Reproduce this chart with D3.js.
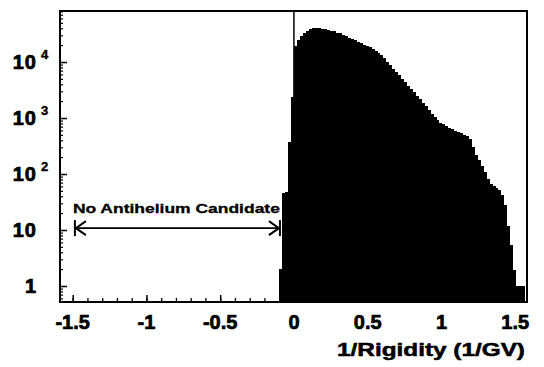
<!DOCTYPE html>
<html>
<head>
<meta charset="utf-8">
<script src="https://cdn.jsdelivr.net/npm/d3@7"></script>
<style>
  body { margin: 0; background: #fff; }
  svg { display: block; }
  text { font-family: "Liberation Sans", Arial, sans-serif; font-weight: bold; fill: #000; }
</style>
</head>
<body>
<div id="chart"></div>
<script>
// histogram of 1/rigidity, bins of 0.02 starting at -0.10
var binStart = -0.10;
var binWidth = 0.02;
var counts = [
  2, 45, 48, 370, 2370,
  19300, 24700, 29100, 33000, 36500, 38800, 40500, 40500, 40500, 39600,
  38800, 38000, 36500, 35100, 33600, 33000, 31000, 29100, 27400, 25700,
  24700, 23200, 21800, 20500, 19300, 18200, 17100, 15700, 14500, 13100,
  11800, 10200, 8840, 7660, 6770, 5860, 4970, 4400, 3800, 3360,
  2910, 2520, 2180, 1890, 1640, 1390, 1200, 1040, 921, 831,
  766, 720, 676, 636, 598, 562, 540, 497, 468, 422,
  303, 218, 178, 139, 109, 81, 66, 61, 56, 52,
  42, 28, 12, 5.4, 1.9, 1, 1, 1
];
var xTicks = [-1.5, -1, -0.5, 0, 0.5, 1, 1.5];
var xTickLabels = ["-1.5", "-1", "-0.5", "0", "0.5", "1", "1.5"];
var yTicks = [1, 10, 100, 1000, 10000];
var yTickBase = ["1", "10", "10", "10", "10"];
var yTickExp = ["", "", "2", "3", "4"];
var xTitle = "1/Rigidity (1/GV)";
var noteText = "No Antihelium Candidate";
var noteRange = [-1.485, -0.095];
var noteLevel = 10.8;

var W = 544, H = 367;
var pLeft = 60, pRight = 527, pTop = 11, pBottom = 302;

var svg = d3.select("#chart").append("svg")
    .attr("width", W)
    .attr("height", H);

var x = d3.scaleLinear().domain([-1.586, 1.58]).range([pLeft, pRight]);
var y = d3.scaleLog().domain([0.518, 81500]).range([pBottom, pTop]);

var bins = counts.map(function (c, i) {
    var lo = binStart + i * binWidth;
    return {lo: lo, hi: lo + binWidth, n: c};
});

// histogram bars
svg.append("g")
    .attr("shape-rendering", "crispEdges")
    .selectAll("rect")
    .data(bins)
    .enter().append("rect")
    .attr("x", function (d) { return Math.round(x(d.lo)); })
    .attr("width", function (d) { return Math.round(x(d.hi)) - Math.round(x(d.lo)) + 1; })
    .attr("y", function (d) { return y(d.n); })
    .attr("height", function (d) { return pBottom - y(d.n); })
    .attr("fill", "#000");

// line at zero
svg.append("line")
    .attr("x1", x(0)).attr("x2", x(0))
    .attr("y1", pTop).attr("y2", pBottom)
    .attr("stroke", "#000").attr("stroke-width", 1.5);

// minor / major ticks on the bottom axis (pointing inward)
var minorX = d3.range(-15, 16).map(function (k) { return k / 10; });
svg.append("g")
    .attr("transform", "translate(0," + pBottom + ")")
    .call(d3.axisBottom(x).tickValues(minorX).tickSizeInner(-4).tickSizeOuter(0).tickFormat(""))
    .call(function (g) { g.select(".domain").remove(); g.selectAll("line").attr("stroke-width", 1.3); });
svg.append("g")
    .attr("transform", "translate(0," + pBottom + ")")
    .call(d3.axisBottom(x).tickValues(xTicks).tickSizeInner(-7).tickSizeOuter(0).tickFormat(""))
    .call(function (g) { g.select(".domain").remove(); g.selectAll("line").attr("stroke-width", 1.5); });

// ticks on the left axis
var minorY = [];
[0.1, 1, 10, 100, 1000, 10000].forEach(function (d) {
    for (var m = 2; m < 10; m++) {
        var v = d * m;
        if (v > 0.518 && v < 81500) minorY.push(v);
    }
});
svg.append("g")
    .attr("transform", "translate(" + pLeft + ",0)")
    .call(d3.axisLeft(y).tickValues(minorY).tickSizeInner(-3).tickSizeOuter(0).tickFormat(""))
    .call(function (g) { g.select(".domain").remove(); g.selectAll("line").attr("stroke-width", 1.2); });
svg.append("g")
    .attr("transform", "translate(" + pLeft + ",0)")
    .call(d3.axisLeft(y).tickValues(yTicks).tickSizeInner(-7).tickSizeOuter(0).tickFormat(""))
    .call(function (g) { g.select(".domain").remove(); g.selectAll("line").attr("stroke-width", 1.5); });

// frame
svg.append("rect")
    .attr("x", pLeft).attr("y", pTop)
    .attr("width", pRight - pLeft).attr("height", pBottom - pTop)
    .attr("fill", "none").attr("stroke", "#000").attr("stroke-width", 2);

// x tick labels
svg.append("g")
    .selectAll("text")
    .data(xTicks)
    .enter().append("text")
    .attr("x", function (d) { return x(d); })
    .attr("y", 329)
    .attr("text-anchor", "middle")
    .attr("font-size", 20)
    .attr("stroke", "#000").attr("stroke-width", 0.7)
    .text(function (d, i) { return xTickLabels[i]; });

// y tick labels (10 with exponent)
var yl = svg.append("g")
    .selectAll("g")
    .data(yTicks)
    .enter().append("g");
yl.append("text")
    .attr("x", 37)
    .attr("y", function (d) { return y(d) + 7; })
    .attr("text-anchor", "end")
    .attr("font-size", 20)
    .attr("letter-spacing", 1)
    .attr("stroke", "#000").attr("stroke-width", 0.7)
    .text(function (d, i) { return yTickBase[i]; });
yl.append("text")
    .attr("x", 41)
    .attr("y", function (d) { return y(d) - 3; })
    .attr("font-size", 13)
    .attr("stroke", "#000").attr("stroke-width", 0.4)
    .text(function (d, i) { return yTickExp[i]; });

// x axis title
svg.append("text")
    .attr("x", 525)
    .attr("y", 356)
    .attr("text-anchor", "end")
    .attr("font-size", 18)
    .attr("textLength", 188)
    .attr("lengthAdjust", "spacingAndGlyphs")
    .attr("stroke", "#000").attr("stroke-width", 0.5)
    .text(xTitle);

// annotation with double arrow
var ay = y(noteLevel), ax1 = x(noteRange[0]), ax2 = x(noteRange[1]);
svg.append("text")
    .attr("x", ax1 - 2)
    .attr("y", 213)
    .attr("font-size", 13)
    .attr("textLength", 207)
    .attr("lengthAdjust", "spacingAndGlyphs")
    .attr("stroke", "#000").attr("stroke-width", 0.3)
    .text(noteText);
var arr = svg.append("g").attr("stroke", "#000").attr("fill", "none").attr("stroke-width", 1.6);
arr.append("line").attr("x1", ax1).attr("x2", ax2).attr("y1", ay).attr("y2", ay);
arr.append("line").attr("x1", ax1).attr("x2", ax1).attr("y1", ay - 8).attr("y2", ay + 8).attr("stroke-width", 2);
arr.append("line").attr("x1", ax2).attr("x2", ax2).attr("y1", ay - 8).attr("y2", ay + 8).attr("stroke-width", 2);
arr.append("path").attr("d", "M" + (ax1 + 11) + "," + (ay - 7) + "L" + (ax1 + 1) + "," + ay + "L" + (ax1 + 11) + "," + (ay + 7)).attr("stroke-width", 2);
arr.append("path").attr("d", "M" + (ax2 - 11) + "," + (ay - 7) + "L" + (ax2 - 1) + "," + ay + "L" + (ax2 - 11) + "," + (ay + 7)).attr("stroke-width", 2);
</script>
</body>
</html>
